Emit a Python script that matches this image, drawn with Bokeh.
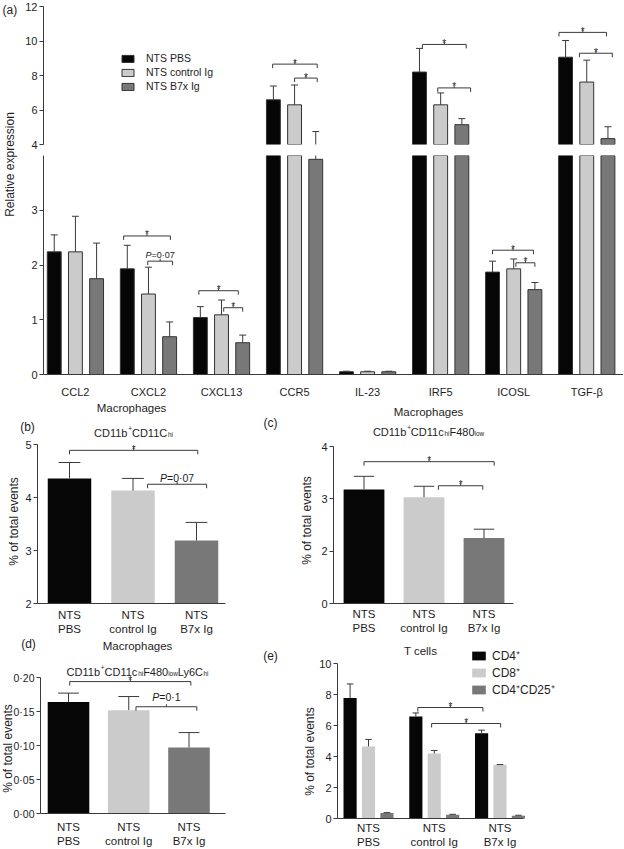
import math
from bokeh.plotting import figure
from bokeh.models import Range1d, FixedTicker, Label, Legend, LegendItem, ColumnDataSource
from bokeh.layouts import column, row
from bokeh.embed import file_html
from bokeh.resources import INLINE

# ---------------- data ----------------
genes = ["CCL2", "CXCL2", "CXCL13", "CCR5", "IL-23", "IRF5", "ICOSL", "TGF-β"]
series_names = ["NTS PBS", "NTS control Ig", "NTS B7x Ig"]
a_pbs = [2.24, 1.93, 1.04, 6.59, 0.05, 8.20, 1.87, 9.06]
a_pbs_err = [0.31, 0.43, 0.20, 0.80, 0.01, 1.37, 0.20, 0.97]
a_ctrl = [2.24, 1.47, 1.09, 6.30, 0.05, 6.30, 1.93, 7.62]
a_ctrl_err = [0.65, 0.49, 0.27, 1.15, 0.01, 0.69, 0.18, 1.27]
a_b7x = [1.75, 0.69, 0.58, 3.93, 0.05, 5.15, 1.55, 4.34]
a_b7x_err = [0.65, 0.27, 0.14, 0.82, 0.01, 0.35, 0.13, 0.69]
a_ticks_top = [4, 6, 8, 10, 12]
a_ticks_bottom = [0, 1, 2, 3]
a_break = 4

a_sig_group = [1, 1, 2, 2, 3, 3, 5, 5, 6, 6, 7, 7]
a_sig_from = [-0.34, -0.01, -0.31, 0.03, -0.30, 0.00, -0.25, -0.04, -0.29, 0.03, -0.38, -0.10]
a_sig_to = [0.30, 0.33, 0.23, 0.29, 0.31, 0.31, 0.35, 0.41, 0.27, 0.29, 0.27, 0.35]
a_sig_level = [2.53, 2.07, 1.53, 1.22, 8.66, 7.85, 9.80, 7.28, 2.27, 2.04, 10.50, 9.29]
a_sig_text = ["*", "P=0·07", "*", "*", "*", "*", "*", "*", "*", "*", "*", "*"]

group_labels = ["NTS\nPBS", "NTS\ncontrol Ig", "NTS\nB7x Ig"]

b_vals = [4.36, 4.13, 3.19]
b_err = [0.30, 0.23, 0.34]
b_ticks = [2, 3, 4, 5]
b_sig_from = [0.00, 1.23]
b_sig_to = [2.02, 2.16]
b_sig_level = [4.89, 4.25]
b_sig_text = ["*", "P=0·07"]

c_vals = [3.18, 3.03, 2.25]
c_err = [0.25, 0.21, 0.17]
c_ticks = [1, 2, 3, 4]
c_tick_labels = ["0", "2", "3", "4"]
c_sig_from = [0.00, 1.24]
c_sig_to = [2.17, 1.98]
c_sig_level = [3.71, 3.25]
c_sig_text = ["*", "*"]

d_vals = [0.164, 0.152, 0.097]
d_err = [0.013, 0.020, 0.022]
d_ticks = [0.0, 0.05, 0.10, 0.15, 0.20]
d_tick_labels = ["0·00", "0·05", "0·10", "0·15", "0·20"]
d_sig_from = [0.02, 1.12]
d_sig_to = [2.03, 2.13]
d_sig_level = [0.194, 0.157]
d_sig_text = ["*", "P=0·1"]

e_names = ["CD4⁺", "CD8⁺", "CD4⁺CD25⁺"]
e_cd4 = [7.78, 6.58, 5.50]
e_cd4_err = [0.90, 0.23, 0.20]
e_cd8 = [4.65, 4.19, 3.46]
e_cd8_err = [0.45, 0.20, 0.02]
e_treg = [0.35, 0.25, 0.18]
e_treg_err = [0.03, 0.02, 0.03]
e_ticks = [0, 2, 4, 6, 8, 10]
e_sig_from = [0.75, 0.96]
e_sig_to = [1.74, 2.01]
e_sig_level = [7.16, 6.13]
e_sig_text = ["*", "*"]

# ---------------- style ----------------
FONT = "Liberation Sans"
TXT = "#1e1e1e"
AX = "#3a3a3a"
COLS = ["#060606", "#cbcbcb", "#787878"]

CW = {'C': 722, 'D': 722, '1': 556, 'b': 556, '+': 584, 'h': 556, 'i': 222, 'c': 500,
      'F': 611, '4': 556, '8': 556, '0': 556, 'l': 222, 'o': 556, 'w': 722, 'L': 556,
      'y': 500, '6': 556, 'P': 667, '=': 584, '·': 333, '7': 556, ' ': 278}

ORG = {}  # figure id -> (canvas left, canvas top, canvas height) for frame == canvas figures


def text_w(s, size):
    return sum(CW.get(ch, 556) for ch in s) * size / 1000.0


def scr(p, X, Y):
    cx, cy, H = ORG[p.id]
    return X - cx, cy + H - Y


def rich(p, pieces, x, y, units, size, dx=0.0, dy=0.0, align="center"):
    def fs_of(k):
        return size * 0.58 if k in ("sup", "sub") else size
    total = sum(text_w(t, fs_of(k)) for t, k in pieces)
    cur = dx - total / 2.0 if align == "center" else dx
    for t, k in pieces:
        fs = fs_of(k)
        shift = {"sup": size * 0.40, "sub": -size * 0.22}.get(k, 0.0)
        p.add_layout(Label(x=x, y=y, x_units=units, y_units=units, x_offset=cur, y_offset=dy + shift,
                           text=t, text_font=FONT, text_font_size=f"{fs:.1f}px",
                           text_font_style="italic" if k == "it" else "normal",
                           text_color=TXT, text_align="left", text_baseline="alphabetic"))
        cur += text_w(t, fs)


def rich_at(p, pieces, X, Ybase, size):
    sx, sy = scr(p, X, Ybase)
    rich(p, pieces, sx, sy, "screen", size)


def slabel(p, text, X, Y, size=12, align="center", baseline="middle", angle=0.0):
    sx, sy = scr(p, X, Y)
    p.add_layout(Label(x=sx, y=sy, x_units="screen", y_units="screen", text=text,
                       text_font=FONT, text_font_size=f"{size}px", text_color=TXT,
                       text_align=align, text_baseline=baseline, angle=angle))


def style_axes(p):
    p.outline_line_color = None
    p.xgrid.visible = False
    p.ygrid.visible = False
    for ax in (p.xaxis[0], p.yaxis[0]):
        ax.axis_line_color = AX
        ax.axis_line_width = 1
        ax.minor_tick_line_color = None
        ax.major_label_text_font = FONT
        ax.major_label_text_color = TXT
    xa = p.xaxis[0]
    xa.major_tick_line_color = None
    xa.major_tick_out = 0
    xa.major_tick_in = 0
    xa.major_label_text_font_size = "11.5px"
    ya = p.yaxis[0]
    ya.major_tick_line_color = AX
    ya.major_tick_out = 4
    ya.major_tick_in = 0
    ya.major_label_standoff = 2
    ya.major_label_text_font_size = "11px"


def errbars(p, xs, tops, errs, capw):
    ends = [t + e for t, e in zip(tops, errs)]
    p.segment(x0=xs, y0=tops, x1=xs, y1=ends, line_color=AX, line_width=1)
    p.segment(x0=[x - capw / 2 for x in xs], y0=ends, x1=[x + capw / 2 for x in xs], y1=ends,
              line_color=AX, line_width=1)


def brackets(p, x0s, x1s, ys, texts, ppu, star_size=10, p_size=10.5, p_dy=6):
    xm = [(a + b) / 2 for a, b in zip(x0s, x1s)]
    leg = 4.0 / ppu
    tick = 2.5 / ppu
    kw = dict(line_color=AX, line_width=1)
    p.segment(x0=x0s, y0=ys, x1=x1s, y1=ys, **kw)
    p.segment(x0=x0s, y0=ys, x1=x0s, y1=[y - leg for y in ys], **kw)
    p.segment(x0=x1s, y0=ys, x1=x1s, y1=[y - leg for y in ys], **kw)
    p.segment(x0=xm, y0=ys, x1=xm, y1=[y + tick for y in ys], **kw)
    for x, y, t in zip(xm, ys, texts):
        if t == "*":
            p.add_layout(Label(x=x, y=y, text="*", text_font=FONT, text_font_size=f"{star_size}px",
                               text_color=TXT, text_align="center", text_baseline="alphabetic",
                               y_offset=1))
        else:
            rich(p, [(t[0], "it"), (t[1:], "n")], x, y, "data", p_size, dy=p_dy)


# ---------------- panel (a) ----------------
LF_W, H1, H2 = 22, 150, 250
lf = figure(width=LF_W, height=H1 + H2, x_range=Range1d(0, 1), y_range=Range1d(0, 1),
            output_backend="svg", toolbar_location=None,
            min_border_left=0, min_border_right=0, min_border_top=0, min_border_bottom=0,
            x_axis_location=None, y_axis_location=None)
lf.outline_line_color = None
lf.xgrid.visible = False
lf.ygrid.visible = False
ORG[lf.id] = (0, 0, H1 + H2)
slabel(lf, "(a)", 2, 9, size=12, align="left")
slabel(lf, "Relative expression", 9, 164, size=12, angle=math.pi / 2)

A_XR = (-0.437, 7.503)
top_a = figure(width=601, height=H1, x_range=Range1d(*A_XR), y_range=Range1d(a_break, 12),
               output_backend="svg", toolbar_location=None,
               min_border_left=19, min_border_right=0, min_border_top=6, min_border_bottom=6)
bot_a = figure(width=601, height=H2, x_range=Range1d(*A_XR), y_range=Range1d(0, a_break),
               output_backend="svg", toolbar_location=None,
               min_border_left=19, min_border_right=0, min_border_top=5, min_border_bottom=24)
for p in (top_a, bot_a):
    style_axes(p)
top_a.xaxis.visible = False
top_a.yaxis.ticker = FixedTicker(ticks=a_ticks_top)
bot_a.yaxis.ticker = FixedTicker(ticks=a_ticks_bottom)
bot_a.xaxis.ticker = FixedTicker(ticks=list(range(len(genes))))
bot_a.xaxis.major_label_overrides = {i: g for i, g in enumerate(genes)}
bot_a.xaxis.major_label_standoff = 11
bot_a.xaxis.major_label_text_font_size = "11px"

A_OFF = [-0.29, 0.0, 0.29]
A_BW = 0.19
a_series = [(a_pbs, a_pbs_err), (a_ctrl, a_ctrl_err), (a_b7x, a_b7x_err)]
legend_renderers = []
for k, (vals, errs) in enumerate(a_series):
    xs = [i + A_OFF[k] for i in range(len(genes))]
    src = ColumnDataSource(dict(x=xs, top=vals))
    bot_a.vbar(x="x", top="top", bottom=0, width=A_BW, source=src,
               fill_color=COLS[k], line_color="#333333", line_width=1)
    errbars(bot_a, xs, vals, errs, A_BW / 2)
    keep = [i for i, v in enumerate(vals) if v > a_break]
    src_t = ColumnDataSource(dict(x=[xs[i] for i in keep], top=[vals[i] for i in keep]))
    r = top_a.vbar(x="x", top="top", bottom=0, width=A_BW, source=src_t,
                   fill_color=COLS[k], line_color="#333333", line_width=1)
    legend_renderers.append(r)
    keep_e = [i for i, (v, e) in enumerate(zip(vals, errs)) if v + e > a_break]
    errbars(top_a, [xs[i] for i in keep_e], [vals[i] for i in keep_e], [errs[i] for i in keep_e], A_BW / 2)

sx0 = [g + f for g, f in zip(a_sig_group, a_sig_from)]
sx1 = [g + f for g, f in zip(a_sig_group, a_sig_to)]
lo = [i for i, y in enumerate(a_sig_level) if y < a_break]
hi = [i for i, y in enumerate(a_sig_level) if y >= a_break]
brackets(bot_a, [sx0[i] for i in lo], [sx1[i] for i in lo], [a_sig_level[i] for i in lo],
         [a_sig_text[i] for i in lo], 221 / 4.0, p_size=9, p_dy=6)
brackets(top_a, [sx0[i] for i in hi], [sx1[i] for i in hi], [a_sig_level[i] for i in hi],
         [a_sig_text[i] for i in hi], 138 / 8.0)

leg_a = Legend(items=[LegendItem(label=n, renderers=[r]) for n, r in zip(series_names, legend_renderers)],
               location=(77, 52), orientation="vertical", glyph_width=15, glyph_height=9,
               label_height=9, label_width=10, spacing=2, padding=0, margin=0,
               border_line_color=None, background_fill_alpha=0, label_standoff=11,
               label_text_font=FONT, label_text_font_size="10.5px", label_text_color=TXT)
top_a.add_layout(leg_a)


# ---------------- panels (b)-(e): frame fills the canvas, axes at fixed locations ----------------
def make_panel(cx, cy, W, H, xmap, ymap, ax_px, right_px):
    d0, p0, d1, p1 = xmap
    ppx = (p1 - p0) / (d1 - d0)
    xr = (d0 - (p0 - cx) / ppx, d0 + (cx + W - p0) / ppx)
    e0, q0, e1, q1 = ymap
    ppy = (q0 - q1) / (e1 - e0)
    yr = (e0 - (cy + H - q0) / ppy, e0 + (q0 - cy) / ppy)
    p = figure(width=W, height=H, x_range=Range1d(*xr), y_range=Range1d(*yr),
               output_backend="svg", toolbar_location=None,
               min_border_left=0, min_border_right=0, min_border_top=0, min_border_bottom=0)
    style_axes(p)
    ax_x = d0 + (ax_px - p0) / ppx
    right_x = d0 + (right_px - p0) / ppx
    p.yaxis.fixed_location = ax_x
    p.yaxis.bounds = (e0, e1)
    p.xaxis.fixed_location = e0
    p.xaxis.bounds = (ax_x, right_x)
    p.xaxis.ticker = FixedTicker(ticks=list(range(len(group_labels))))
    p.xaxis.major_label_overrides = {i: g for i, g in enumerate(group_labels)}
    ORG[p.id] = (cx, cy, H)
    return p, ppy


def fill_single(p, ppy, ticks, tick_labels, vals, errs, bw, sig, p_dy):
    p.yaxis.ticker = FixedTicker(ticks=ticks)
    if tick_labels is not None:
        p.yaxis.major_label_overrides = {t: s for t, s in zip(ticks, tick_labels)}
    base = ticks[0]
    xs = list(range(len(vals)))
    src = ColumnDataSource(dict(x=xs, top=vals, color=COLS))
    p.vbar(x="x", top="top", bottom=base, width=bw, source=src, fill_color="color", line_color=None)
    errbars(p, xs, vals, errs, bw / 2)
    brackets(p, *sig, ppy, p_dy=p_dy)


R2Y, R2H, R3Y, R3H = 400, 236, 636, 213
LW, RX, RW = 262, 262, 361

pb, ppy_b = make_panel(0, R2Y, LW, R2H, (0, 69, 2, 196), (2, 603, 5, 444), 37, 225)
fill_single(pb, ppy_b, b_ticks, None, b_vals, b_err, 0.685,
            (b_sig_from, b_sig_to, b_sig_level, b_sig_text), 6)
pb.xaxis.major_label_standoff = 5
slabel(pb, "(b)", 27, 426)
slabel(pb, "Macrophages", 131, 407, size=11.5)
rich_at(pb, [("CD11b", "n"), ("+", "sup"), ("CD11C", "n"), ("hi", "sub")], 133, 432, 11)
slabel(pb, "% of total events", 13, 521, size=12, angle=math.pi / 2)

pc, ppy_c = make_panel(RX, R2Y, RW, R2H, (0, 363.5, 2, 483.5), (1, 603, 4, 446), 333, 513)
fill_single(pc, ppy_c, c_ticks, c_tick_labels, c_vals, c_err, 0.68,
            (c_sig_from, c_sig_to, c_sig_level, c_sig_text), 6)
pc.xaxis.major_label_standoff = 4
slabel(pc, "(c)", 270, 422)
slabel(pc, "Macrophages", 428, 411, size=11.5)
rich_at(pc, [("CD11b", "n"), ("+", "sup"), ("CD11c", "n"), ("hi", "sub"), ("F480", "n"), ("low", "sub")],
        428, 431, 11)
slabel(pc, "% of total events", 306, 520, size=12, angle=math.pi / 2)

pd, ppy_d = make_panel(0, R3Y, LW, R3H, (0, 68, 2, 188.5), (0, 813, 0.2, 677), 40, 225)
fill_single(pd, ppy_d, d_ticks, d_tick_labels, d_vals, d_err, 0.69,
            (d_sig_from, d_sig_to, d_sig_level, d_sig_text), 10)
pd.yaxis.major_label_text_font_size = "10.5px"
pd.xaxis.major_label_standoff = 7
slabel(pd, "(d)", 28, 643)
slabel(pd, "Macrophages", 137, 645, size=11.5)
rich_at(pd, [("CD11b", "n"), ("+", "sup"), ("CD11c", "n"), ("hi", "sub"), ("F480", "n"), ("low", "sub"),
             ("Ly6C", "n"), ("hi", "sub")], 137, 671, 11)
slabel(pd, "% of total events", 7.5, 748, size=12, angle=math.pi / 2)

pe, ppy_e = make_panel(RX, R3Y, RW, R3H, (0, 368, 2, 499.5), (0, 818, 10, 663), 337, 523)
pe.yaxis.ticker = FixedTicker(ticks=e_ticks)
pe.xaxis.major_label_standoff = 3
E_OFF = [-0.28, 0.0, 0.28]
E_BW = 0.2
e_series = [(e_cd4, e_cd4_err), (e_cd8, e_cd8_err), (e_treg, e_treg_err)]
e_rs = []
for k, (vals, errs) in enumerate(e_series):
    xs = [i + E_OFF[k] for i in range(len(vals))]
    src = ColumnDataSource(dict(x=xs, top=vals))
    e_rs.append(pe.vbar(x="x", top="top", bottom=e_ticks[0], width=E_BW, source=src,
                        fill_color=COLS[k], line_color=None))
    errbars(pe, xs, vals, errs, E_BW / 2)
brackets(pe, e_sig_from, e_sig_to, e_sig_level, e_sig_text, ppy_e)
leg_e = Legend(items=[LegendItem(label=n, renderers=[r]) for n, r in zip(e_names, e_rs)],
               location=(208, 151), orientation="vertical", glyph_width=17, glyph_height=11,
               label_height=11, label_width=10, spacing=0, padding=0, margin=0,
               border_line_color=None, background_fill_alpha=0, label_standoff=5,
               label_text_font=FONT, label_text_font_size="12px", label_text_color=TXT)
pe.add_layout(leg_e)
slabel(pe, "(e)", 270, 655)
slabel(pe, "T cells", 420, 650, size=11.5)
slabel(pe, "% of total events", 309, 751, size=12, angle=math.pi / 2)

layout = column(row(lf, column(top_a, bot_a)), row(pb, pc), row(pd, pe))
open("out.html", "w").write(file_html(layout, INLINE))
